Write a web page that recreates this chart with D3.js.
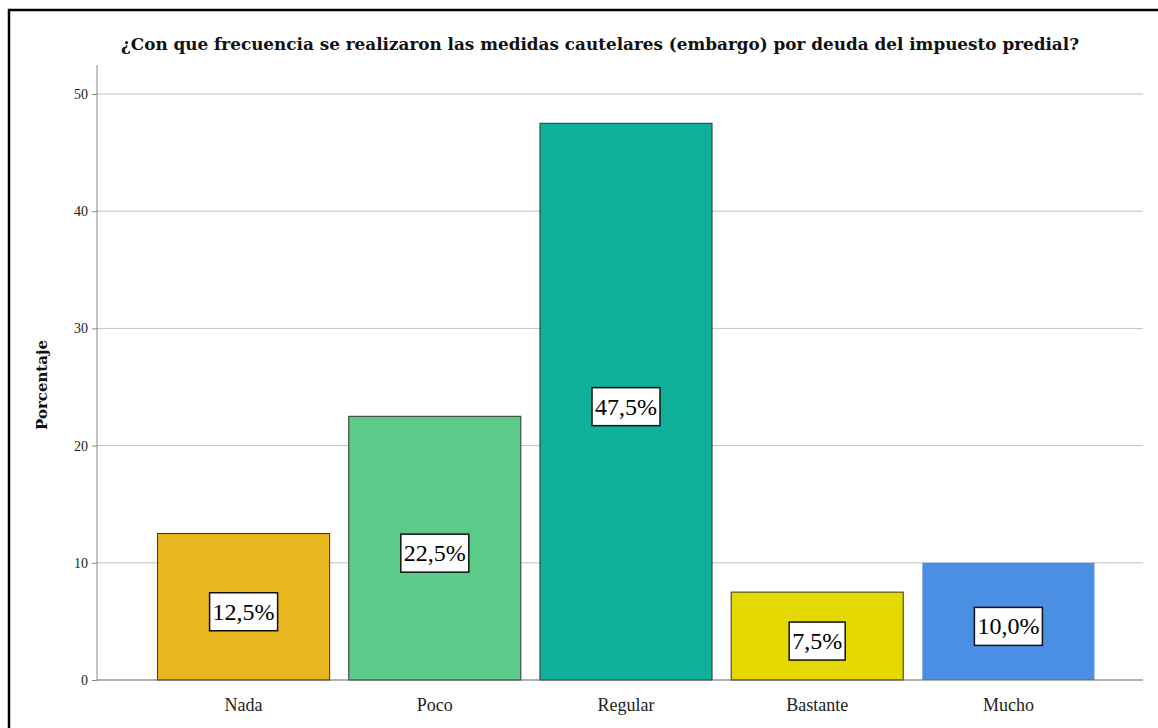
<!DOCTYPE html>
<html><head><meta charset="utf-8">
<script src="https://cdn.jsdelivr.net/npm/d3@7"></script>
<style>body{margin:0;background:#fff}svg{display:block}</style>
</head><body>
<svg id="c" width="1158" height="728"></svg>
<script>
const categories = ["Nada", "Poco", "Regular", "Bastante", "Mucho"];
const values = [12.5, 22.5, 47.5, 7.5, 10.0];
const valueLabels = ["12,5%", "22,5%", "47,5%", "7,5%", "10,0%"];
const colors = ["#e8b61f", "#5acb88", "#10b19a", "#e4d800", "#4b8fe5"];
const yTicks = [0, 10, 20, 30, 40, 50];
const title = "¿Con que frecuencia se realizaron las medidas cautelares (embargo) por deuda del impuesto predial?";
const yTitle = "Porcentaje";

const svg = d3.select("#c");
const font = "'Liberation Serif','Times New Roman',serif";
const titleFont = "'DejaVu Serif','Liberation Serif',serif";

// outer frame
svg.append("rect").attr("x", 9).attr("y", 10).attr("width", 1160).attr("height", 730)
  .attr("fill", "none").attr("stroke", "#000").attr("stroke-width", 2.5);

const y = d3.scaleLinear().domain([0, 50]).range([680, 94]);
const x = d3.scaleBand().domain(categories).range([148, 1104]).paddingInner(0.1).paddingOuter(0.05);
const xLeft = 97, xRight = 1143;

// gridlines
svg.append("g").selectAll("line").data(yTicks.filter(d => d > 0)).join("line")
  .attr("x1", xLeft).attr("x2", xRight).attr("y1", d => y(d)).attr("y2", d => y(d))
  .attr("stroke", "#c0c0c0").attr("stroke-width", 1);

// y axis
const yAxis = svg.append("g").attr("transform", `translate(${xLeft},0)`)
  .call(d3.axisLeft(y).tickValues(yTicks).tickSize(5).tickPadding(4));
yAxis.select(".domain").remove();
yAxis.selectAll(".tick line").attr("stroke", "#888");
yAxis.selectAll("text").attr("font-family", font).attr("font-size", 14).attr("fill", "#222");
svg.append("line").attr("x1", xLeft).attr("x2", xLeft).attr("y1", 65).attr("y2", 680)
  .attr("stroke", "#888").attr("stroke-width", 1);

// bars
svg.append("g").selectAll("rect").data(categories).join("rect")
  .attr("x", d => x(d)).attr("width", x.bandwidth())
  .attr("y", (d, i) => y(values[i])).attr("height", (d, i) => y(0) - y(values[i]))
  .attr("fill", (d, i) => colors[i])
  .attr("stroke", (d, i) => i === 4 ? "none" : "#333").attr("stroke-width", 1);

// x axis baseline
svg.append("line").attr("x1", xLeft).attr("x2", xRight).attr("y1", y(0)).attr("y2", y(0))
  .attr("stroke", "#666").attr("stroke-width", 1.2);

// x labels
svg.append("g").selectAll("text").data(categories).join("text")
  .attr("x", d => x(d) + x.bandwidth() / 2).attr("y", 711)
  .attr("text-anchor", "middle").attr("font-family", font).attr("font-size", 18).attr("fill", "#222")
  .text(d => d);

// value labels
const lg = svg.append("g").selectAll("g").data(categories).join("g")
  .attr("transform", (d, i) => `translate(${x(d) + x.bandwidth() / 2},${(y(values[i]) + y(0)) / 2 + 5})`);
lg.append("text").attr("text-anchor", "middle").attr("dominant-baseline", "central")
  .attr("font-family", font).attr("font-size", 24).attr("fill", "#000")
  .text((d, i) => valueLabels[i]);
lg.each(function () {
  const g = d3.select(this), t = g.select("text");
  const b = t.node().getBBox();
  g.insert("rect", "text").attr("x", b.x - 3).attr("y", -19).attr("width", b.width + 6).attr("height", 38)
    .attr("fill", "#fff").attr("stroke", "#111").attr("stroke-width", 1.5);
});

// title
svg.append("text").attr("x", 600).attr("y", 50).attr("text-anchor", "middle")
  .attr("font-family", titleFont).attr("font-weight", "bold").attr("font-size", 16).attr("fill", "#111")
  .attr("textLength", 958).attr("lengthAdjust", "spacingAndGlyphs")
  .text(title);

// y title
svg.append("text").attr("transform", "translate(47,385) rotate(-90)").attr("text-anchor", "middle")
  .attr("font-family", titleFont).attr("font-weight", "bold").attr("font-size", 15).attr("fill", "#111")
  .text(yTitle);
</script>
</body></html>
